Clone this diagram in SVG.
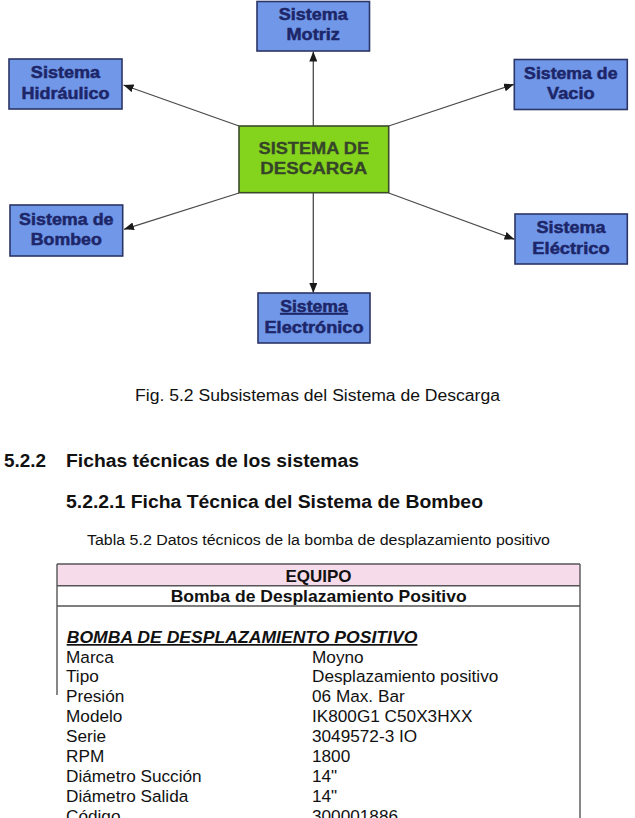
<svg xmlns="http://www.w3.org/2000/svg" width="635" height="818" viewBox="0 0 635 818">
<style>
  .node rect { fill: #7097e8; stroke: #2b3566; stroke-width: 1.6; }
  .node text { font-family: "Liberation Sans", Arial, sans-serif; font-weight: bold; font-size: 16.5px; fill: #1d2668; stroke: #1d2668; stroke-width: 0.5; text-anchor: middle; }
  .center rect { fill: #84d31c; stroke: #3c4a2c; stroke-width: 1.6; }
  .center text { font-family: "Liberation Sans", Arial, sans-serif; font-weight: bold; font-size: 16px; fill: #36452a; stroke: #36452a; stroke-width: 0.3; text-anchor: middle; }
  .conn line { stroke: #4a4a4a; stroke-width: 1.3; fill: none; }
  .doc { font-family: "Liberation Sans", Arial, sans-serif; fill: #111; }
  .cap { font-size: 16px; }
  .h { font-size: 17.5px; font-weight: bold; }
  .tcap { font-size: 15.5px; }
  .tb { font-size: 17px; font-weight: bold; }
  .tr { font-size: 17.2px; }
  .tbl { stroke: #555; stroke-width: 1.4; fill: none; }
</style>
<defs>
  <marker id="arr" viewBox="0 0 10 8" refX="10" refY="4" markerWidth="10" markerHeight="8" markerUnits="userSpaceOnUse" orient="auto">
    <path d="M0,0 L10,4 L0,8 z" fill="#1a1a1a"/>
  </marker>
</defs>

<g id="connectors" class="conn">
  <line x1="313.3" y1="126" x2="313.3" y2="51.5" marker-end="url(#arr)"/>
  <line x1="239" y1="126" x2="123.5" y2="85" marker-end="url(#arr)"/>
  <line x1="388.7" y1="126" x2="514" y2="84.3" marker-end="url(#arr)"/>
  <line x1="239" y1="193" x2="124" y2="229.3" marker-end="url(#arr)"/>
  <line x1="388.7" y1="193" x2="514.5" y2="239.3" marker-end="url(#arr)"/>
  <line x1="313.3" y1="193" x2="313.3" y2="293" marker-end="url(#arr)"/>
</g>

<g id="node-descarga" class="center">
  <rect x="239" y="126" width="149.7" height="66.7"/>
  <text x="313.8" y="154" textLength="110.5" lengthAdjust="spacingAndGlyphs">SISTEMA DE</text>
  <text x="313.8" y="173.5" textLength="107" lengthAdjust="spacingAndGlyphs">DESCARGA</text>
</g>

<g id="node-motriz" class="node">
  <rect x="257" y="1.5" width="112.5" height="49.5"/>
  <text x="313.2" y="19.5" textLength="69" lengthAdjust="spacingAndGlyphs">Sistema</text>
  <text x="313.2" y="40" textLength="53.4" lengthAdjust="spacingAndGlyphs">Motriz</text>
</g>

<g id="node-hidraulico" class="node">
  <rect x="9" y="59" width="113" height="50"/>
  <text x="65.5" y="78" textLength="69.3" lengthAdjust="spacingAndGlyphs">Sistema</text>
  <text x="65.5" y="99" textLength="88" lengthAdjust="spacingAndGlyphs">Hidráulico</text>
</g>

<g id="node-vacio" class="node">
  <rect x="514.3" y="59.5" width="113" height="50"/>
  <text x="570.8" y="78.5" textLength="93.4" lengthAdjust="spacingAndGlyphs">Sistema de</text>
  <text x="570.8" y="99" textLength="47.6" lengthAdjust="spacingAndGlyphs">Vacio</text>
</g>

<g id="node-bombeo" class="node">
  <rect x="10" y="205" width="112.7" height="51"/>
  <text x="66.3" y="224.5" textLength="94.4" lengthAdjust="spacingAndGlyphs">Sistema de</text>
  <text x="66.3" y="245" textLength="71" lengthAdjust="spacingAndGlyphs">Bombeo</text>
</g>

<g id="node-electrico" class="node">
  <rect x="515" y="214" width="112.3" height="50"/>
  <text x="571" y="233" textLength="69" lengthAdjust="spacingAndGlyphs">Sistema</text>
  <text x="571" y="253.5" textLength="77.3" lengthAdjust="spacingAndGlyphs">Eléctrico</text>
</g>

<g id="node-electronico" class="node">
  <rect x="258" y="293" width="112" height="50"/>
  <text x="314" y="312" textLength="67.6" lengthAdjust="spacingAndGlyphs" text-decoration="underline">Sistema</text>
  <text x="314" y="333" textLength="99" lengthAdjust="spacingAndGlyphs">Electrónico</text>
</g>

<g id="captions" class="doc">
  <text class="cap" x="135" y="400.5" textLength="365" lengthAdjust="spacingAndGlyphs">Fig. 5.2 Subsistemas del Sistema de Descarga</text>
  <text class="h" x="4" y="467" textLength="42" lengthAdjust="spacingAndGlyphs">5.2.2</text>
  <text class="h" x="66" y="467" textLength="293" lengthAdjust="spacingAndGlyphs">Fichas técnicas de los sistemas</text>
  <text class="h" x="66" y="507.7" textLength="417" lengthAdjust="spacingAndGlyphs">5.2.2.1 Ficha Técnica del Sistema de Bombeo</text>
  <text class="tcap" x="87" y="545" textLength="463" lengthAdjust="spacingAndGlyphs">Tabla 5.2 Datos técnicos de la bomba de desplazamiento positivo</text>
</g>

<g id="table" class="doc">
  <rect x="57" y="564" width="523" height="21.7" fill="#f6dcea"/>
  <line class="tbl" x1="57" y1="564" x2="580" y2="564"/>
  <line class="tbl" x1="57" y1="585.7" x2="580" y2="585.7"/>
  <line class="tbl" x1="57" y1="606" x2="580" y2="606"/>
  <line class="tbl" x1="580" y1="564" x2="580" y2="818"/>
  <line class="tbl" x1="57" y1="564" x2="57" y2="695"/>
  <text class="tb" x="318.5" y="581.5" text-anchor="middle">EQUIPO</text>
  <text class="tb" x="318.7" y="601.7" text-anchor="middle" textLength="296" lengthAdjust="spacingAndGlyphs">Bomba de Desplazamiento Positivo</text>
  <text class="tb" x="66.7" y="643" font-style="italic" text-decoration="underline" textLength="350.7" lengthAdjust="spacingAndGlyphs">BOMBA DE DESPLAZAMIENTO POSITIVO</text>
  <g class="tr">
    <text x="66" y="662.5">Marca</text><text x="312" y="662.5">Moyno</text>
    <text x="66" y="682.3">Tipo</text><text x="312" y="682.3">Desplazamiento positivo</text>
    <text x="66" y="701.8">Presión</text><text x="312" y="701.8">06 Max. Bar</text>
    <text x="66" y="721.7">Modelo</text><text x="312" y="721.7">IK800G1 C50X3HXX</text>
    <text x="66" y="741.7">Serie</text><text x="312" y="741.7">3049572-3 IO</text>
    <text x="66" y="761.7">RPM</text><text x="312" y="761.7">1800</text>
    <text x="66" y="781.7">Diámetro Succión</text><text x="312" y="781.7">14"</text>
    <text x="66" y="801.7">Diámetro Salida</text><text x="312" y="801.7">14"</text>
    <text x="66" y="821.7">Código</text><text x="312" y="821.7">300001886</text>
  </g>
</g>
</svg>
